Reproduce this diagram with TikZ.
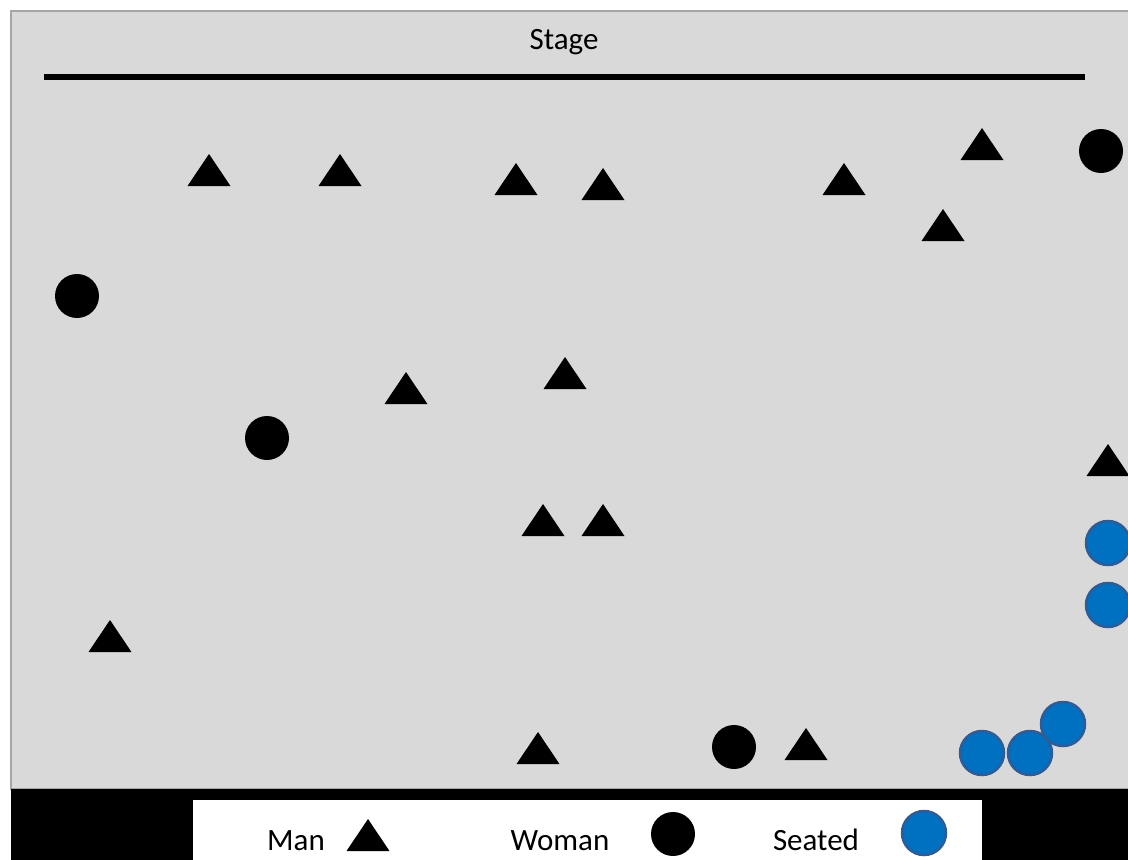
\documentclass[tikz,border=0pt]{standalone}
\usepackage{fontspec}
\setmainfont{Carlito}
\definecolor{floor}{HTML}{D9D9D9}
\definecolor{floorline}{HTML}{A6A6A6}
\definecolor{seatfill}{HTML}{0070C0}
\definecolor{seatline}{HTML}{2F5C96}
\tikzset{
  man/.style={fill=black},
  woman/.style={circle, fill=black, minimum size=44pt, inner sep=0pt},
  seated/.style={circle, fill=seatfill, draw=seatline, line width=2.5pt, minimum size=44pt, inner sep=0pt},
  lbl/.style={font=\fontsize{31}{36}\selectfont, anchor=base, inner sep=0pt}
}
\begin{document}
\begin{tikzpicture}[x=1pt,y=-1pt]
\useasboundingbox (0,0) rectangle (1128,860);
\clip (0,0) rectangle (1128,860);
% floor
\fill[white] (0,0) rectangle (1128,860);
\draw[floorline, fill=floor, line width=1.5pt] (11,11) rectangle (1150,789);
% bottom bar and legend box
\fill[black] (11,789) rectangle (1140,870);
\fill[white] (193,800) rectangle (982,870);
% stage
\node[lbl] (stage) at (564,49) {Stage};
\draw[line width=6pt] (44,76.5) -- (1085,76.5);
% men (apex coordinates)
\foreach \x/\y in {209/154, 340/154, 516/163, 603/168, 844/163, 982/128, 943/209,
                   406/372, 565/357, 543/504, 603/504, 110/620, 538/732, 806/728,
                   1108/444, 368/819}
  \fill[man] ({\x-21.5},{\y+32}) -- (\x,\y) -- ({\x+21.5},{\y+32}) -- cycle;
% women
\node[woman] (w1) at (1101,151) {};
\node[woman] (w2) at (77,296) {};
\node[woman] (w3) at (267,438) {};
\node[woman] (w4) at (734,747) {};
\node[woman] (wl) at (673,834) {};
% seated
\node[seated] (s1) at (1108,543) {};
\node[seated] (s2) at (1108,605) {};
\node[seated] (s3) at (1063,724) {};
\node[seated] (s4) at (982,753) {};
\node[seated] (s5) at (1030,753) {};
\node[seated] (sl) at (924,833) {};
% legend texts
\node[lbl] (lman) at (296,850) {Man};
\node[lbl] (lwoman) at (560,850) {Woman};
\node[lbl] (lseated) at (816,850) {Seated};
\end{tikzpicture}
\end{document}
